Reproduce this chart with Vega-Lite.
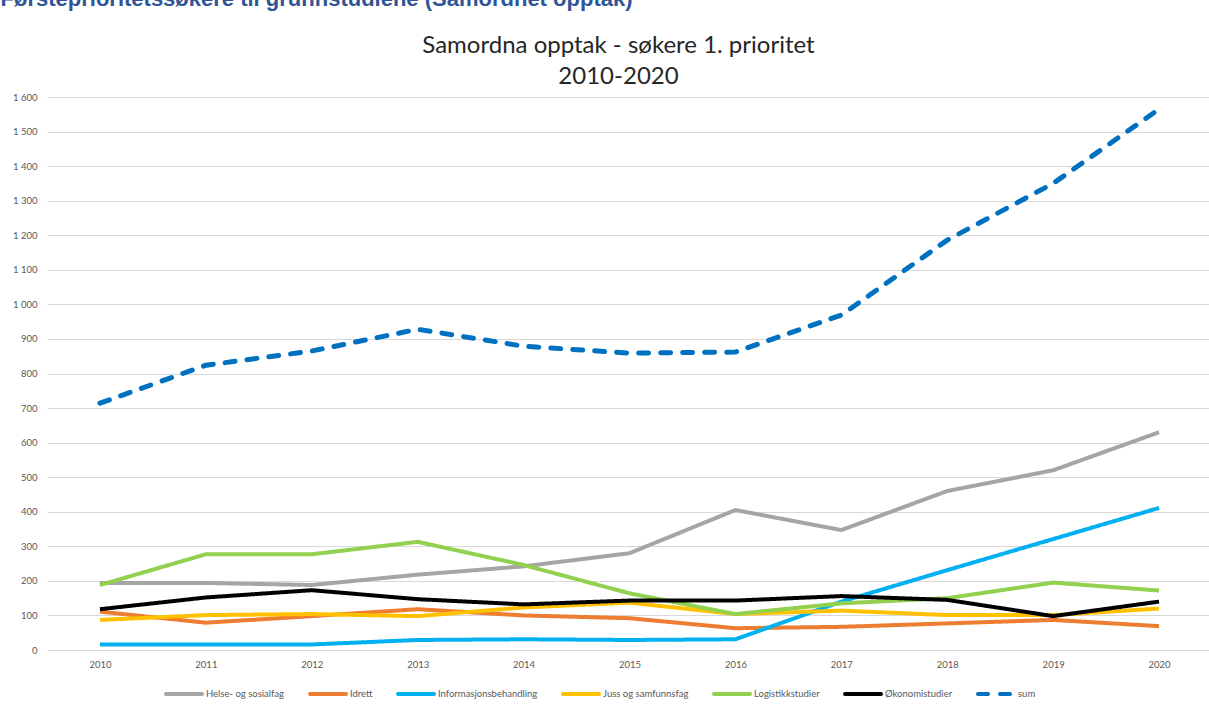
{
  "$schema": "https://vega.github.io/schema/vega-lite/v6.json",
  "background": "white",
  "padding": {"left": 0, "top": -12, "right": 0, "bottom": 0},
  "title": {
    "text": "Førsteprioritetssøkere til grunnstudiene (Samordnet opptak)",
    "anchor": "start",
    "font": "Liberation Sans",
    "fontSize": 22,
    "fontWeight": "bold",
    "color": "#2F5597",
    "offset": 23,
    "dx": -12
  },
  "datasets": {
    "rows": [
      {"year": 2010, "series": "Helse- og sosialfag", "value": 194},
      {"year": 2011, "series": "Helse- og sosialfag", "value": 194},
      {"year": 2012, "series": "Helse- og sosialfag", "value": 188},
      {"year": 2013, "series": "Helse- og sosialfag", "value": 218},
      {"year": 2014, "series": "Helse- og sosialfag", "value": 242},
      {"year": 2015, "series": "Helse- og sosialfag", "value": 280},
      {"year": 2016, "series": "Helse- og sosialfag", "value": 405},
      {"year": 2017, "series": "Helse- og sosialfag", "value": 347},
      {"year": 2018, "series": "Helse- og sosialfag", "value": 460},
      {"year": 2019, "series": "Helse- og sosialfag", "value": 520},
      {"year": 2020, "series": "Helse- og sosialfag", "value": 630},
      {"year": 2010, "series": "Idrett", "value": 111},
      {"year": 2011, "series": "Idrett", "value": 79},
      {"year": 2012, "series": "Idrett", "value": 98},
      {"year": 2013, "series": "Idrett", "value": 118},
      {"year": 2014, "series": "Idrett", "value": 100},
      {"year": 2015, "series": "Idrett", "value": 92},
      {"year": 2016, "series": "Idrett", "value": 63},
      {"year": 2017, "series": "Idrett", "value": 67},
      {"year": 2018, "series": "Idrett", "value": 77},
      {"year": 2019, "series": "Idrett", "value": 87},
      {"year": 2020, "series": "Idrett", "value": 69},
      {"year": 2010, "series": "Informasjonsbehandling", "value": 16},
      {"year": 2011, "series": "Informasjonsbehandling", "value": 16},
      {"year": 2012, "series": "Informasjonsbehandling", "value": 16},
      {"year": 2013, "series": "Informasjonsbehandling", "value": 29},
      {"year": 2014, "series": "Informasjonsbehandling", "value": 31},
      {"year": 2015, "series": "Informasjonsbehandling", "value": 29},
      {"year": 2016, "series": "Informasjonsbehandling", "value": 31},
      {"year": 2017, "series": "Informasjonsbehandling", "value": 140},
      {"year": 2018, "series": "Informasjonsbehandling", "value": 231},
      {"year": 2019, "series": "Informasjonsbehandling", "value": 321},
      {"year": 2020, "series": "Informasjonsbehandling", "value": 411},
      {"year": 2010, "series": "Juss og samfunnsfag", "value": 87},
      {"year": 2011, "series": "Juss og samfunnsfag", "value": 101},
      {"year": 2012, "series": "Juss og samfunnsfag", "value": 104},
      {"year": 2013, "series": "Juss og samfunnsfag", "value": 98},
      {"year": 2014, "series": "Juss og samfunnsfag", "value": 123},
      {"year": 2015, "series": "Juss og samfunnsfag", "value": 137},
      {"year": 2016, "series": "Juss og samfunnsfag", "value": 104},
      {"year": 2017, "series": "Juss og samfunnsfag", "value": 114},
      {"year": 2018, "series": "Juss og samfunnsfag", "value": 101},
      {"year": 2019, "series": "Juss og samfunnsfag", "value": 101},
      {"year": 2020, "series": "Juss og samfunnsfag", "value": 120},
      {"year": 2010, "series": "Logistikkstudier", "value": 188},
      {"year": 2011, "series": "Logistikkstudier", "value": 277},
      {"year": 2012, "series": "Logistikkstudier", "value": 277},
      {"year": 2013, "series": "Logistikkstudier", "value": 313},
      {"year": 2014, "series": "Logistikkstudier", "value": 246},
      {"year": 2015, "series": "Logistikkstudier", "value": 164},
      {"year": 2016, "series": "Logistikkstudier", "value": 104},
      {"year": 2017, "series": "Logistikkstudier", "value": 135},
      {"year": 2018, "series": "Logistikkstudier", "value": 150},
      {"year": 2019, "series": "Logistikkstudier", "value": 195},
      {"year": 2020, "series": "Logistikkstudier", "value": 172},
      {"year": 2010, "series": "Økonomistudier", "value": 118},
      {"year": 2011, "series": "Økonomistudier", "value": 152},
      {"year": 2012, "series": "Økonomistudier", "value": 173},
      {"year": 2013, "series": "Økonomistudier", "value": 147},
      {"year": 2014, "series": "Økonomistudier", "value": 132},
      {"year": 2015, "series": "Økonomistudier", "value": 143},
      {"year": 2016, "series": "Økonomistudier", "value": 143},
      {"year": 2017, "series": "Økonomistudier", "value": 156},
      {"year": 2018, "series": "Økonomistudier", "value": 145},
      {"year": 2019, "series": "Økonomistudier", "value": 98},
      {"year": 2020, "series": "Økonomistudier", "value": 140},
      {"year": 2010, "series": "sum", "value": 714},
      {"year": 2011, "series": "sum", "value": 824},
      {"year": 2012, "series": "sum", "value": 865},
      {"year": 2013, "series": "sum", "value": 928},
      {"year": 2014, "series": "sum", "value": 879},
      {"year": 2015, "series": "sum", "value": 859},
      {"year": 2016, "series": "sum", "value": 862},
      {"year": 2017, "series": "sum", "value": 969},
      {"year": 2018, "series": "sum", "value": 1186},
      {"year": 2019, "series": "sum", "value": 1350},
      {"year": 2020, "series": "sum", "value": 1565}
    ]
  },
  "vconcat": [
    {
      "width": 1165,
      "height": 553,
      "title": {
        "text": ["Samordna opptak - søkere 1. prioritet", "2010-2020"],
        "font": "Lato",
        "fontSize": 24,
        "fontWeight": "normal",
        "color": "#262626",
        "lineHeight": 31,
        "anchor": "middle",
        "frame": "group",
        "dx": -11,
        "offset": 3
      },
      "data": {"name": "rows"},
      "encoding": {
        "x": {
          "field": "year",
          "type": "quantitative",
          "scale": {"domain": [2009.5, 2020.5], "nice": false, "zero": false},
          "axis": {
            "values": [2010, 2011, 2012, 2013, 2014, 2015, 2016, 2017, 2018, 2019, 2020],
            "format": "d",
            "grid": false,
            "ticks": false,
            "domain": false,
            "title": null,
            "labelPadding": 9,
            "labelFont": "Lato",
            "labelFontSize": 9.5,
            "labelColor": "#595959"
          }
        },
        "y": {
          "field": "value",
          "type": "quantitative",
          "scale": {"domain": [0, 1600], "nice": false},
          "axis": {
            "values": [0, 100, 200, 300, 400, 500, 600, 700, 800, 900, 1000, 1100, 1200, 1300, 1400, 1500, 1600],
            "labelExpr": "replace(format(datum.value, ','), ',', ' ')",
            "grid": true,
            "gridColor": "#d9d9d9",
            "gridWidth": 1,
            "ticks": false,
            "domain": false,
            "title": null,
            "labelPadding": 10,
            "labelFont": "Lato",
            "labelFontSize": 9.5,
            "labelColor": "#595959"
          }
        },
        "color": {
          "field": "series",
          "type": "nominal",
          "scale": {
            "domain": ["Helse- og sosialfag", "Idrett", "Informasjonsbehandling", "Juss og samfunnsfag", "Logistikkstudier", "Økonomistudier", "sum"],
            "range": ["#a5a5a5", "#ed7d31", "#00b0f0", "#ffc000", "#92d050", "#000000", "#0070c0"]
          },
          "legend": {
            "orient": "none",
            "legendX": 117,
            "legendY": 577,
            "direction": "horizontal",
            "title": null,
            "symbolType": "stroke",
            "symbolSize": 1296,
            "symbolStrokeWidth": 4,
            "labelFont": "Lato",
            "labelFontSize": 9.5,
            "labelColor": "#595959",
            "labelOffset": 2,
            "columnPadding": 17,
            "encode": {"symbols": {"update": {"strokeCap": {"value": "round"}}}}
          }
        },
        "strokeDash": {
          "field": "series",
          "type": "nominal",
          "scale": {
            "domain": ["Helse- og sosialfag", "Idrett", "Informasjonsbehandling", "Juss og samfunnsfag", "Logistikkstudier", "Økonomistudier", "sum"],
            "range": [[1, 0], [1, 0], [1, 0], [1, 0], [1, 0], [1, 0], [10, 12]]
          },
          "legend": null
        }
      },
      "layer": [
        {
          "transform": [{"filter": "datum.series !== 'sum'"}],
          "mark": {"type": "line", "strokeWidth": 4, "strokeJoin": "round"}
        },
        {
          "transform": [{"filter": "datum.series === 'sum'"}],
          "mark": {"type": "line", "strokeWidth": 5, "strokeCap": "round", "strokeJoin": "round"}
        }
      ]
    }
  ],
  "config": {
    "view": {"stroke": null},
    "font": "Lato"
  }
}
